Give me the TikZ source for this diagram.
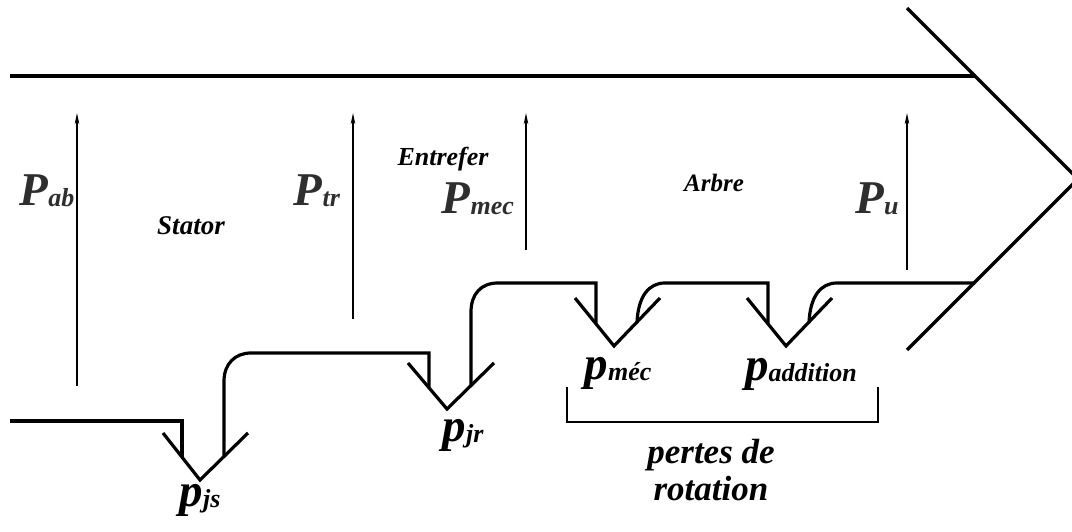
\documentclass[tikz,border=0pt]{standalone}
\usepackage{fontspec}
\setmainfont{Liberation Serif}
\usetikzlibrary{arrows.meta}
\newcommand\bigP[2]{{\fontsize{47}{47}\selectfont #1}\raisebox{-1pt}{\fontsize{26}{26}\selectfont #2}}
\begin{document}
\begin{tikzpicture}[x=1pt,y=-1pt,
  flow/.style={line width=3.2pt, line join=miter},
  power/.style={line width=1.6pt, -{Stealth[length=11pt,width=4.5pt,inset=3pt]}},
  plabel/.style={font=\bfseries\itshape, text=black!82, inner sep=0pt, anchor=base},
  lowlabel/.style={font=\bfseries\itshape, text=black, inner sep=0pt, anchor=base},
  zone/.style={font=\fontsize{26}{26}\selectfont\bfseries\itshape, inner sep=0pt, anchor=base},
  brace/.style={line width=2pt}]
\useasboundingbox (0,0) rectangle (1072,532);

% top line and chevron
\coordinate (t0) at (10,76);
\coordinate (t1) at (975,76);
\draw[flow] (t0) -- (t1);
\begin{scope}
\clip (0,0) rectangle (1072,532);
\coordinate (c0) at (907,8);
\coordinate (ctip) at (1078,179);
\coordinate (c1) at (907,350);
\draw[flow] (c0) -- (ctip) -- (c1);
\end{scope}

% power arrows
\coordinate (ab0) at (77,386);  \coordinate (ab1) at (77,113);
\coordinate (tr0) at (353,319); \coordinate (tr1) at (353,113);
\coordinate (me0) at (526,250); \coordinate (me1) at (526,113);
\coordinate (u0)  at (907,270); \coordinate (u1)  at (907,113);
\draw[power] (ab0) -- (ab1);
\draw[power] (tr0) -- (tr1);
\draw[power] (me0) -- (me1);
\draw[power] (u0) -- (u1);

% flow of losses
\draw[flow] (10,421) -- (182,421) -- (182,457);
\draw[flow] (163,433) -- (200,480) -- (248,433);
\draw[flow] (224,457) -- (224,381) .. controls (224,364) and (235,353) .. (251,353) -- (429,353) -- (429,387);
\draw[flow] (408,363) -- (447,409) -- (494,363);
\draw[flow] (471,386) -- (471,312) .. controls (471,294) and (481,283) .. (498,283) -- (596,283) -- (596,323);
\draw[flow] (575,298) -- (614,346) -- (660,298);
\draw[flow] (637,323) .. controls (638,296) and (649,283) .. (665,283) -- (768,283) -- (768,323);
\draw[flow] (747,298) -- (786,346) -- (832,298);
\draw[flow] (809,323) .. controls (810,296) and (821,283) .. (837,283) -- (975,283);

% bracket
\draw[brace] (567,387) -- (567,422) -- (878,422) -- (878,387);

% labels
\node[plabel] (Lab) at (47,206) {\bigP{P}{ab}};
\node[plabel] (Ltr) at (317,206) {\bigP{P}{tr}};
\node[plabel] (Lme) at (478,214) {\bigP{P}{mec}};
\node[plabel] (Lu)  at (877,214) {\bigP{P}{u}};
\node[zone, font=\fontsize{27}{27}\selectfont\bfseries\itshape] (stator) at (191,234) {Stator};
\node[zone] (entrefer) at (443,166) {Entrefer};
\node[zone, font=\fontsize{25}{25}\selectfont\bfseries\itshape] (arbre) at (714,192) {Arbre};
\node[lowlabel] (ljs) at (200,506) {\bigP{p}{js}};
\node[lowlabel] (ljr) at (463,441) {\bigP{p}{jr}};
\node[lowlabel] (lmec) at (618,379) {\bigP{p}{méc}};
\node[lowlabel] (ladd) at (801,380) {\bigP{p}{addition}};
\node[zone, font=\fontsize{35}{35}\selectfont\bfseries\itshape] (pertes) at (711,463) {pertes de};
\node[zone, font=\fontsize{35}{35}\selectfont\bfseries\itshape] (rotation) at (711,500) {rotation};
\end{tikzpicture}
\end{document}
